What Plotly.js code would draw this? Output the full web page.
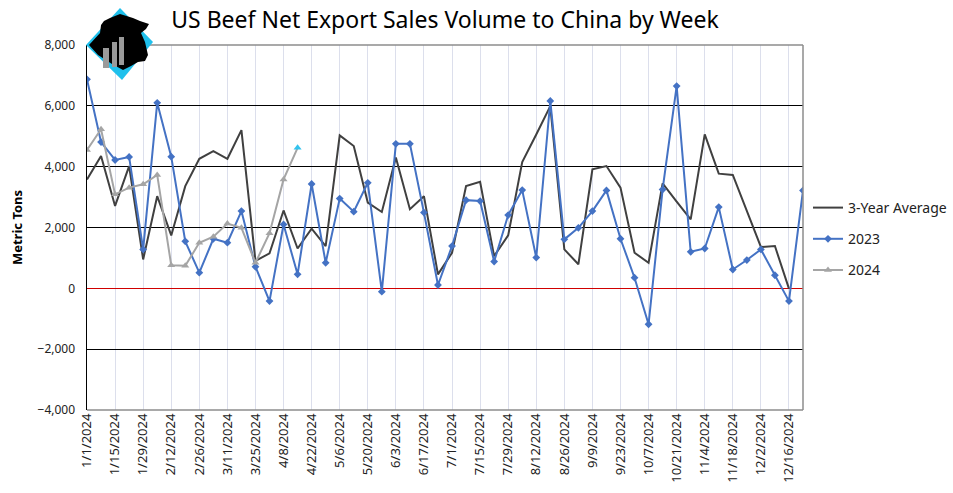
<!DOCTYPE html>
<html>
<head>
<meta charset="utf-8">
<script src="https://cdn.plot.ly/plotly-3.0.1.min.js"></script>
<style>html,body{margin:0;padding:0;background:#fff;}#chart{width:953px;height:493px;}</style>
</head>
<body>
<div id="chart"></div>
<script>
// Week start dates (2024), as shown on the axis
const weeks = [
  '1/1/2024','1/8/2024','1/15/2024','1/22/2024','1/29/2024','2/5/2024','2/12/2024','2/19/2024','2/26/2024',
  '3/4/2024','3/11/2024','3/18/2024','3/25/2024','4/1/2024','4/8/2024','4/15/2024','4/22/2024','4/29/2024',
  '5/6/2024','5/13/2024','5/20/2024','5/27/2024','6/3/2024','6/10/2024','6/17/2024','6/24/2024','7/1/2024',
  '7/8/2024','7/15/2024','7/22/2024','7/29/2024','8/5/2024','8/12/2024','8/19/2024','8/26/2024','9/2/2024',
  '9/9/2024','9/16/2024','9/23/2024','9/30/2024','10/7/2024','10/14/2024','10/21/2024','10/28/2024','11/4/2024',
  '11/11/2024','11/18/2024','11/25/2024','12/2/2024','12/9/2024','12/16/2024','12/23/2024'
];
const avg3yr = [3580,4350,2710,4020,950,3030,1740,3360,4260,4510,4260,5200,900,1150,2560,1310,1960,1390,5030,4680,
  2820,2510,4300,2600,3030,460,1170,3360,3500,1060,1740,4150,5060,5990,1280,790,3910,4020,3310,1170,840,3450,2850,
  2270,5060,3770,3730,2540,1360,1390,-10,null];
const y2023 = [6870,4810,4220,4320,1280,6100,4330,1545,515,1630,1500,2540,710,-420,2100,460,3430,840,2950,2520,3470,
  -110,4750,4750,2490,110,1390,2900,2870,880,2410,3230,1010,6160,1610,1990,2540,3220,1630,350,-1180,3250,6650,1200,
  1310,2670,620,930,1280,430,-420,3220];
const y2024 = [4550,5230,3090,3310,3420,3730,760,740,1500,1700,2130,1990,840,1810,3580,4620];
// labelled weeks (every other week)
const tickWeeks = weeks.filter((d, i) => i % 2 === 0);

const W = 953, H = 493;
const M = {l: 87, r: 150, t: 45, b: 83, autoexpand: false};
const PW = W - M.l - M.r, PH = H - M.t - M.b;
const px = x => (x - M.l) / PW;
const py = y => (H - M.b - y) / PH;
function path(pts) {
  return 'M' + pts.map(p => px(p[0]).toFixed(4) + ',' + py(p[1]).toFixed(4)).join('L') + 'Z';
}

const lastIdx = y2024.length - 1;
const c2024 = y2024.map((v, i) => i === lastIdx ? '#33C3EE' : '#A5A5A5');

const traces = [
  {x: weeks, y: avg3yr, name: '3-Year Average', type: 'scatter', mode: 'lines',
   line: {color: '#404040', width: 2}, legendgroup: 'a'},
  {x: weeks, y: y2023, name: '2023', type: 'scatter', mode: 'lines+markers',
   line: {color: '#4472C4', width: 2}, marker: {symbol: 'diamond', size: 6, color: '#4472C4'}, legendgroup: 'b'},
  {x: weeks.slice(0, y2024.length), y: y2024, name: '2024', type: 'scatter', mode: 'lines+markers',
   line: {color: '#A5A5A5', width: 2}, marker: {symbol: 'triangle-up', size: 7, color: c2024}, legendgroup: 'c'}
];

const shapes = [
  {type: 'line', xref: 'paper', yref: 'paper', x0: 0, x1: 1, y0: 1, y1: 1, line: {color: '#8C8C8C', width: 1.5}},
  {type: 'line', xref: 'paper', yref: 'paper', x0: 1, x1: 1, y0: 0, y1: 1, line: {color: '#8C8C8C', width: 1.5}},
  {type: 'line', xref: 'paper', yref: 'paper', x0: 0, x1: 1, y0: 0, y1: 0, line: {color: '#8C8C8C', width: 1.5}},
  // logo: cyan diamond
  {type: 'path', xref: 'paper', yref: 'paper', path: path([[86,45],[120,8],[153,42],[122,80]]),
   fillcolor: '#1FC0EC', line: {width: 0}},
  // cow head silhouette
  {type: 'path', xref: 'paper', yref: 'paper',
   path: path([[89,45],[100,33],[101,25],[104,21],[110,18],[120,14],[133,18],[140,21],[149,24],[146,29],[141,33],[145,42],[148,55],
               [145,61],[138,62],[131,66],[123,70],[112,64],[98,55]]),
   fillcolor: '#000000', line: {width: 0}},
  {type: 'rect', xref: 'paper', yref: 'paper', x0: px(103), x1: px(109), y0: py(68), y1: py(48), fillcolor: '#9A9A9A', line: {width: 0}},
  {type: 'rect', xref: 'paper', yref: 'paper', x0: px(112), x1: px(117), y0: py(67), y1: py(42), fillcolor: '#9A9A9A', line: {width: 0}},
  {type: 'rect', xref: 'paper', yref: 'paper', x0: px(119), x1: px(124), y0: py(65), y1: py(37), fillcolor: '#9A9A9A', line: {width: 0}}
];

const layout = {
  width: W, height: H,
  margin: M,
  paper_bgcolor: '#fff', plot_bgcolor: '#fff',
  font: {family: 'Noto Sans, Liberation Sans, sans-serif', color: '#333', size: 12},
  title: {text: 'US Beef Net Export Sales Volume to China by Week', x: 445 / W, xanchor: 'center', y: 1 - 20 / H, yanchor: 'middle',
          font: {family: 'Noto Sans, sans-serif', size: 23, color: '#000'}},
  xaxis: {
    type: 'category', categoryorder: 'array', categoryarray: weeks, range: [0, weeks.length - 1],
    tickmode: 'array', tickvals: tickWeeks, ticktext: tickWeeks, tickangle: -90,
    showgrid: true, gridcolor: '#DCDFEC', gridwidth: 1,
    showline: false, zeroline: false, ticks: '',
    tickfont: {family: 'Noto Sans, sans-serif', size: 13, color: '#222'}
  },
  yaxis: {
    range: [-4000, 8000], dtick: 2000, tickformat: ',',
    showgrid: true, gridcolor: '#000', gridwidth: 1,
    zeroline: true, zerolinecolor: '#D00000', zerolinewidth: 1,
    showline: true, linecolor: '#000', linewidth: 1.5,
    ticks: '', ticklabelstandoff: 8,
    tickfont: {family: 'Noto Sans, sans-serif', size: 12, color: '#222'},
    title: {text: '<b>Metric Tons</b>', standoff: 12, font: {family: 'Noto Sans, sans-serif', size: 13, color: '#000'}}
  },
  showlegend: true,
  legend: {x: px(808), xanchor: 'left', y: py(192), yanchor: 'top', bgcolor: 'rgba(0,0,0,0)',
           font: {family: 'Noto Sans, sans-serif', size: 14, color: '#222'}, tracegroupgap: 10, itemwidth: 30},
  shapes: shapes
};

Plotly.newPlot('chart', traces, layout, {displayModeBar: false, staticPlot: true});
</script>
</body>
</html>
